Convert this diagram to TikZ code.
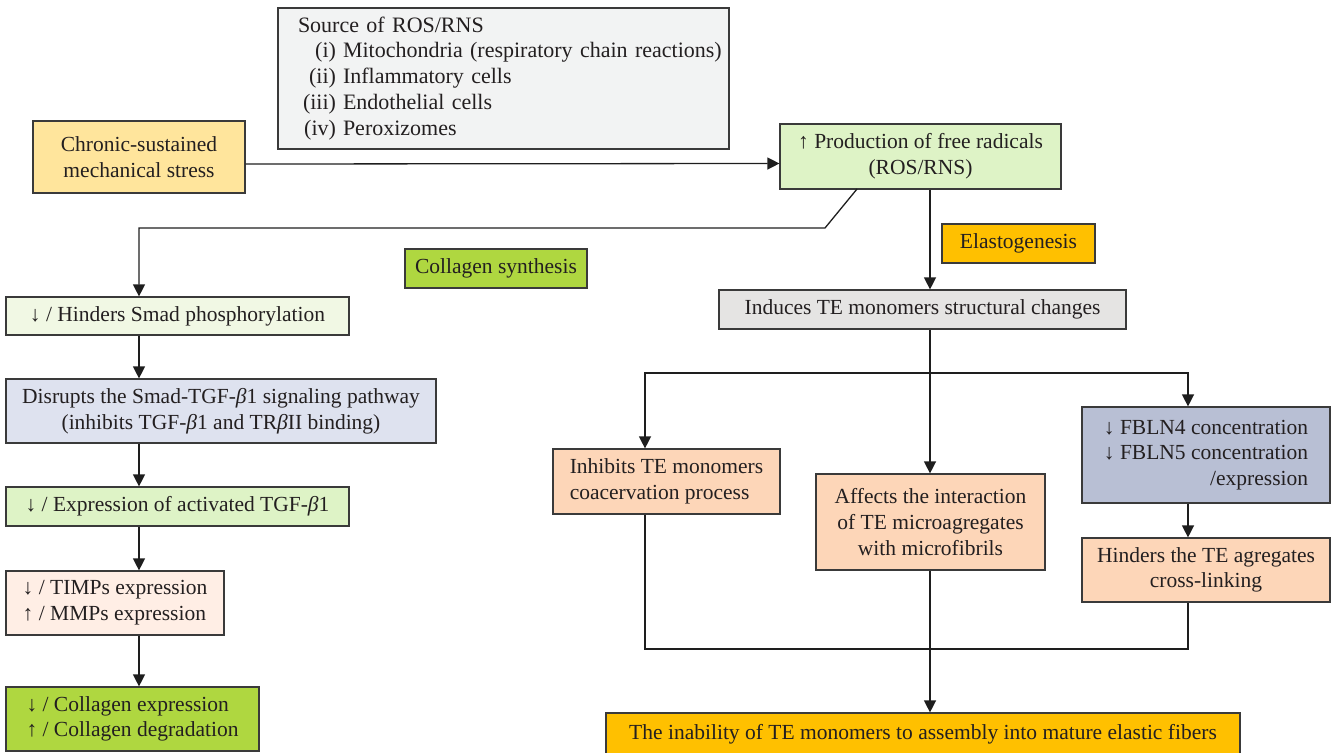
\documentclass[tikz,border=0pt]{standalone}
\usepackage{fontspec}
\setmainfont{Liberation Serif}
\usetikzlibrary{arrows.meta}
\definecolor{bordc}{HTML}{3A3A3A}
\definecolor{linec}{HTML}{1E1E1E}
\definecolor{txtc}{HTML}{231F20}
\definecolor{srcc}{HTML}{F2F3F3}
\definecolor{chrc}{HTML}{FFE59C}
\definecolor{lgreen}{HTML}{DEF3C6}
\definecolor{vlgreen}{HTML}{F1F8E4}
\definecolor{orng}{HTML}{FFC000}
\definecolor{green}{HTML}{AFD740}
\definecolor{grayc}{HTML}{E5E4E3}
\definecolor{bluec}{HTML}{DEE2EF}
\definecolor{peachl}{HTML}{FFEEE5}
\definecolor{peach}{HTML}{FDD6B8}
\definecolor{slate}{HTML}{B8BFD4}
\tikzset{
  box/.style={draw=bordc, line width=1.2pt, inner sep=0pt, text=txtc,
    font=\fontsize{21.5}{25.7}\selectfont, align=center},
  arr/.style={draw=linec, line width=1.3pt, -{Triangle[length=12pt,width=12pt]}},
  ln/.style={draw=linec, line width=1.3pt},
}
\newcommand{\bet}{{\itshape β}}
\newcommand{\lbl}[1]{\makebox[38pt][r]{#1}\hspace{7pt}}
\begin{document}
\begin{tikzpicture}[x=1pt,y=-1pt]
\useasboundingbox (0,0) rectangle (1332,752);
\clip (0,0) rectangle (1332,752);
% nodes
\node[box, fill=srcc, minimum width=451, minimum height=141, text width=411, align=left,
  font=\fontsize{22}{25.7}\selectfont] (src) at (503.5,78.5)
  {\begin{tabular}{@{}l@{}}
  Source of ROS/RNS\\
  \lbl{(i)}Mitochondria (respiratory chain reactions)\\
  \lbl{(ii)}Inflammatory cells\\
  \lbl{(iii)}Endothelial cells\\
  \lbl{(iv)}Peroxizomes
  \end{tabular}};
\node[box, fill=chrc, minimum width=212, minimum height=72] (chronic) at (139,157)
  {Chronic-sustained\\mechanical stress};
\node[box, fill=lgreen, minimum width=281, minimum height=65] (prod) at (920.5,156.5)
  {↑ Production of free radicals\\(ROS/RNS)};
\node[box, fill=orng, minimum width=153, minimum height=39] (elast) at (1018.5,243.5) {Elastogenesis};
\node[box, fill=green, minimum width=182, minimum height=39] (collsyn) at (496,268.5) {Collagen synthesis};
\node[box, fill=grayc, minimum width=407, minimum height=39] (induces) at (922.5,309.5)
  {Induces TE monomers structural changes};
\node[box, fill=vlgreen, minimum width=343, minimum height=38] (hinders) at (177.5,316)
  {↓ / Hinders Smad phosphorylation};
\node[box, fill=bluec, minimum width=430, minimum height=64] (disrupts) at (221,411)
  {Disrupts the Smad-TGF-\bet1 signaling pathway\\(inhibits TGF-\bet1 and TR\bet II binding)};
\node[box, fill=lgreen, minimum width=343, minimum height=39] (expr) at (177.5,506.5)
  {↓ / Expression of activated TGF-\bet1};
\node[box, fill=peachl, minimum width=218, minimum height=64, align=left] (timps) at (115,603)
  {↓ / TIMPs expression\\↑ / MMPs expression};
\node[box, fill=green, minimum width=253, minimum height=64, align=left] (collagen) at (132.5,719)
  {↓ / Collagen expression\\↑ / Collagen degradation};
\node[box, fill=peach, minimum width=227, minimum height=65, align=left] (inhibits) at (666.5,481.5)
  {Inhibits TE monomers\\coacervation process};
\node[box, fill=peach, minimum width=229, minimum height=96] (affects) at (930.5,522)
  {Affects the interaction\\of TE microagregates\\with microfibrils};
\node[box, fill=slate, minimum width=248, minimum height=96, align=right] (fbln) at (1206,455)
  {↓ FBLN4 concentration\\↓ FBLN5 concentration\\/expression};
\node[box, fill=peach, minimum width=248, minimum height=64] (hindte) at (1206,570)
  {Hinders the TE agregates\\cross-linking};
\node[box, fill=orng, minimum width=634, minimum height=42] (final) at (923,734)
  {The inability of TE monomers to assembly into mature elastic fibers};
% helper coordinates
\coordinate (lc) at (139,0);
\coordinate (rc) at (930,0);
\coordinate (d1) at (857,189);
\coordinate (d2) at (825,228);
\coordinate (br) at (930,373);
\coordinate (bl) at (645,373);
\coordinate (brr) at (1188,373);
\coordinate (ml) at (645,649);
\coordinate (mr) at (1188,649);
\coordinate (mc) at (930,649);
% connectors
\draw[arr] ([yshift=-7pt]chronic.east) -- ([yshift=-7pt]prod.west);
\draw[arr] (d1) -- (d2) -- (d2 -| lc) -- (hinders.north -| lc);
\draw[arr] (hinders.south -| lc) -- (disrupts.north -| lc);
\draw[arr] (disrupts.south -| lc) -- (expr.north -| lc);
\draw[arr] (expr.south -| lc) -- (timps.north -| lc);
\draw[arr] (timps.south -| lc) -- (collagen.north -| lc);
\draw[arr] (prod.south -| rc) -- (induces.north -| rc);
\draw[ln] (induces.south -| rc) -- (br);
\draw[arr] (br) -- (bl) -- (inhibits.north -| bl);
\draw[arr] (br) -- (brr) -- (fbln.north -| brr);
\draw[arr] (br) -- (affects.north -| br);
\draw[arr] (fbln.south -| brr) -- (hindte.north -| brr);
\draw[ln] (inhibits.south -| ml) -- (ml) -- (mr) -- (hindte.south -| mr);
\draw[arr] (affects.south -| mc) -- (final.north -| mc);
\end{tikzpicture}
\end{document}
